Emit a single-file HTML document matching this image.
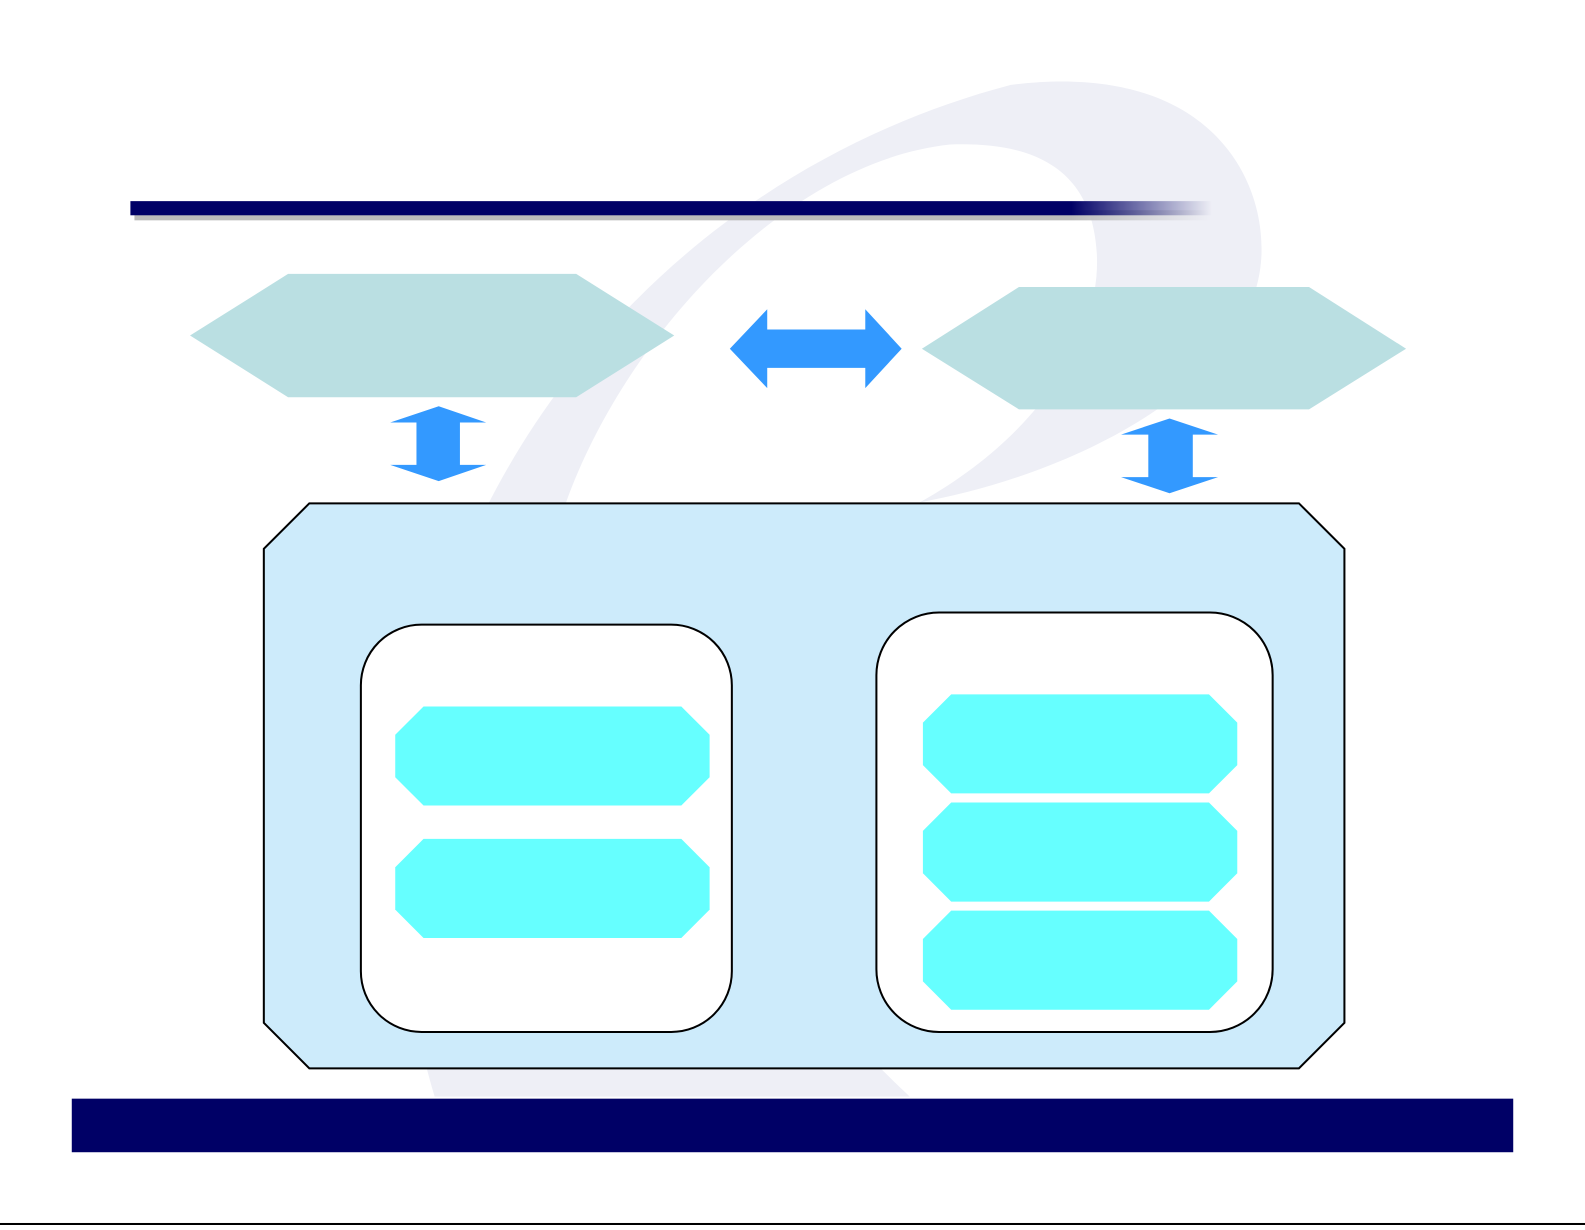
<!DOCTYPE html>
<html><head><style>html,body{margin:0;padding:0;background:#fff;overflow:hidden}</style></head>
<body>
<svg width="1585" height="1225" viewBox="0 0 1568 1212" preserveAspectRatio="none" xmlns="http://www.w3.org/2000/svg">
<defs>
<linearGradient id="tb" x1="0" x2="1" y1="0" y2="0">
<stop offset="0" stop-color="#000066"/><stop offset="0.87" stop-color="#000066"/><stop offset="1" stop-color="#000066" stop-opacity="0"/>
</linearGradient>
<linearGradient id="sh" x1="0" x2="1" y1="0" y2="0">
<stop offset="0" stop-color="#bbb"/><stop offset="0.87" stop-color="#bbb"/><stop offset="1" stop-color="#bbb" stop-opacity="0"/>
</linearGradient>
</defs>
<path d="M 430 1085 C 300 650, 560 200, 1000 84 C 1190 60, 1250 170, 1248 250 C 1245 380, 1060 470, 910 497 C 1030 430, 1090 330, 1085 250 C 1080 165, 1020 140, 940 143 C 780 160, 620 330, 560 497 C 620 800, 820 1010, 900 1085 Z" fill="#eeeff6"/>
<rect x="133" y="208" width="1065" height="10" fill="url(#sh)"/>
<rect x="129" y="199" width="1070" height="14" fill="url(#tb)"/>
<polygon points="188,332 285,271 570,271 667,332 570,393 285,393" fill="#badfe2"/>
<polygon points="912,345 1008,284 1295,284 1391,345 1295,405 1008,405" fill="#badfe2"/>
<polygon points="722,345 759,306 759,326 856,326 856,306 892,345 856,384 856,364 759,364 759,384" fill="#3399ff"/>
<polygon points="434,402 481,418 455,418 455,460 481,460 434,476 386,460 412,460 412,418 386,418" fill="#3399ff"/>
<polygon points="1157,414 1205,430 1180,430 1180,472 1205,472 1157,488 1109,472 1136,472 1136,430 1109,430" fill="#3399ff"/>
<polygon points="306,498 1285,498 1330,543 1330,1012 1285,1057 306,1057 261,1012 261,543" fill="#cdebfb" stroke="#000" stroke-width="2"/>
<rect x="357" y="618" width="367" height="403" rx="60" fill="#fff" stroke="#000" stroke-width="2"/>
<rect x="867" y="606" width="392" height="415" rx="62" fill="#fff" stroke="#000" stroke-width="2"/>
<polygon points="419,699 674,699 702,727 702,769 674,797 419,797 391,769 391,727" fill="#66ffff"/>
<polygon points="419,830 674,830 702,858 702,900 674,928 419,928 391,900 391,858" fill="#66ffff"/>
<polygon points="941,687 1196,687 1224,715 1224,757 1196,785 941,785 913,757 913,715" fill="#66ffff"/>
<polygon points="941,794 1196,794 1224,822 1224,864 1196,892 941,892 913,864 913,822" fill="#66ffff"/>
<polygon points="941,901 1196,901 1224,929 1224,971 1196,999 941,999 913,971 913,929" fill="#66ffff"/>
<rect x="71" y="1087" width="1426" height="53" fill="#000066"/>
<rect x="0" y="1210" width="1568" height="2" fill="#000"/>
</svg>
</body></html>
